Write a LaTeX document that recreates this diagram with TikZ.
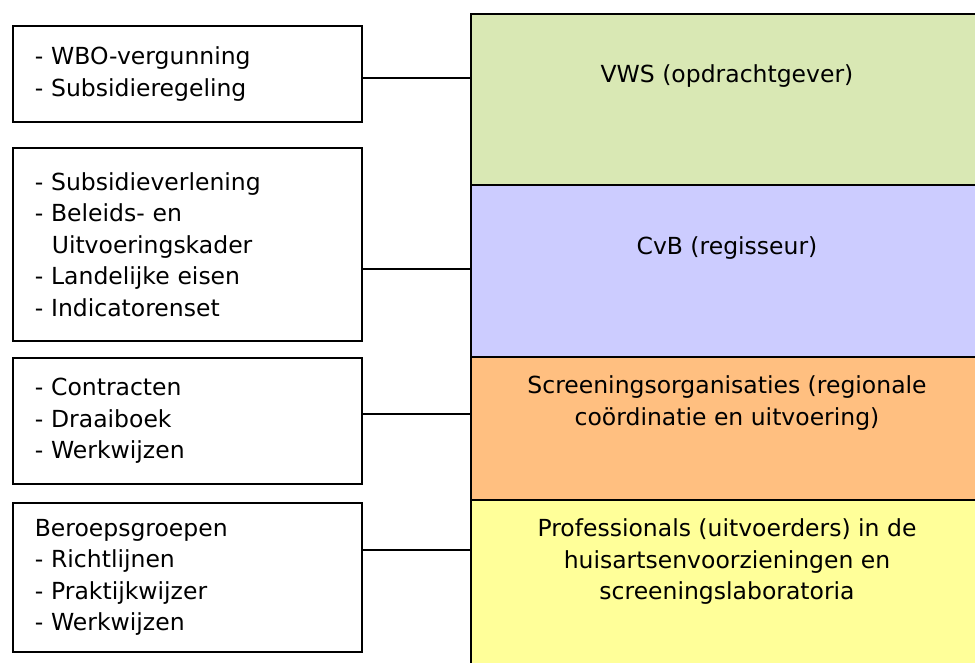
\documentclass[tikz,border=0pt]{standalone}
\usepackage{fontspec}
\setmainfont{DejaVu Sans}
\usepackage{xcolor}
\definecolor{vwsgreen}{HTML}{D9E8B4}
\definecolor{cvbblue}{HTML}{CCCCFF}
\definecolor{orgorange}{HTML}{FFBF80}
\definecolor{profyellow}{HTML}{FFFF99}

\tikzset{
  taskbox/.style={draw=black, line width=1.6pt, anchor=north west, minimum width=349pt,
    text width=305pt, inner xsep=22pt, align=left, font=\fontsize{23.5}{31.5}\selectfont},
  layer/.style={draw=black, line width=1.6pt, anchor=north west, minimum width=520pt, inner sep=0pt},
  layertext/.style={align=center, font=\fontsize{23.5}{31.5}\selectfont},
  link/.style={line width=1.5pt}
}

\begin{document}
\begin{tikzpicture}[x=1pt, y=-1pt]
	\useasboundingbox (0,0) rectangle (975,662);

	% layers on the right
	\node[layer, fill=vwsgreen, minimum height=171pt] (vws) at (470,13) {};
	\node[layer, fill=cvbblue, minimum height=172pt] (cvb) at (470,184) {};
	\node[layer, fill=orgorange, minimum height=143pt] (org) at (470,356) {};
	\node[layer, fill=profyellow, minimum height=200pt] (prof) at (470,499) {};

	\node[layertext] (vwslbl) at (727,76) {VWS (opdrachtgever)};
	\node[layertext] (cvblbl) at (727,248) {CvB (regisseur)};
	\node[layertext] (orglbl) at (727,403) {Screeningsorganisaties (regionale\\coördinatie en uitvoering)};
	\node[layertext] (proflbl) at (727,562) {Professionals (uitvoerders) in de\\huisartsenvoorzieningen en\\screeningslaboratoria};

	% boxes on the left
	\node[taskbox, minimum height=96pt] (wbo) at (12,25) {- WBO-vergunning\\- Subsidieregeling};
	\node[taskbox, minimum height=193pt] (subs) at (12,147) {- Subsidieverlening\\- Beleids- en\\\hspace*{17pt}Uitvoeringskader\\- Landelijke eisen\\- Indicatorenset};
	\node[taskbox, minimum height=126pt] (contr) at (12,357) {- Contracten\\- Draaiboek\\- Werkwijzen};
	\node[taskbox, minimum height=149pt] (beroep) at (12,502) {Beroepsgroepen\\- Richtlijnen\\- Praktijkwijzer\\- Werkwijzen};

	\draw[link] (wbo.east |- 0,78) -- (vws.west |- 0,78);
	\draw[link] (subs.east |- 0,269) -- (cvb.west |- 0,269);
	\draw[link] (contr.east |- 0,414) -- (org.west |- 0,414);
	\draw[link] (beroep.east |- 0,550) -- (prof.west |- 0,550);
\end{tikzpicture}
\end{document}
